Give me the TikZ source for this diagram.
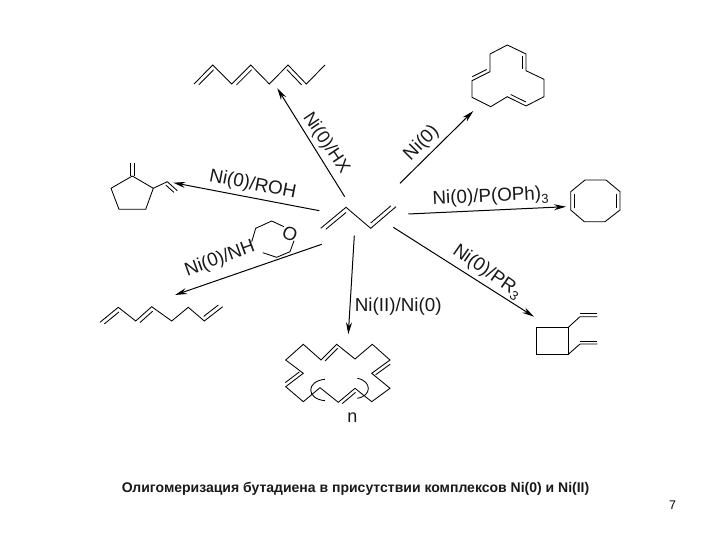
\documentclass[tikz,border=0pt]{standalone}
\usepackage{fontspec}
\setmainfont{Liberation Sans}
\usetikzlibrary{calc,arrows.meta}
\tikzset{
  bond/.style={line width=0.85pt,line join=miter},
  rxn/.style={line width=1pt,-{Stealth[length=12pt,width=6pt]}},
  lab/.style={font=\fontsize{18.8}{22}\selectfont,inner sep=0pt,text=black!90},
}
\newcommand{\dbl}[3]{\draw[bond] ($(#1)!.1!(#2)!#3!90:(#2)$) -- ($(#2)!.1!(#1)!-#3!90:(#1)$);}
\newcommand{\subthree}{\raisebox{-4pt}{\fontsize{13}{13}\selectfont 3}}
\begin{document}
\begin{tikzpicture}[x=1pt,y=-1pt]
\path[use as bounding box,fill=white] (0,0) rectangle (720,540);
% butadiene
\draw[bond] (320.7,228.3) -- (346,207.3) -- (370.7,228.3) -- (396,206.7);
\dbl{320.7,228.3}{346,207.3}{-4pt}
\dbl{370.7,228.3}{396,206.7}{4pt}
% chain top-left
\draw[bond] (194,84) -- (212.7,65) -- (231.7,84) -- (250.7,65) -- (269.3,84) -- (288,65) -- (306.3,84) -- (325,65);
\dbl{194,84}{212.7,65}{-4pt}
\dbl{231.7,84}{250.7,65}{-4pt}
\dbl{288,65}{306.3,84}{-4pt}
% 12-ring
\draw[bond] (507.3,45) -- (526,54) -- (526,70.7) -- (544,79.3) -- (544,96.7) -- (526,106) -- (507.3,96.7) -- (490.7,106.7) -- (472,97.3) -- (472,80.7) -- (490,71.7) -- (490,54) -- cycle;
\dbl{526,54}{526,70.7}{-3.5pt}
\dbl{507.3,96.7}{526,106}{3.5pt}
\dbl{472,80.7}{490,71.7}{3.5pt}
% COD
\draw[bond] (585,180) -- (606,180) -- (620,191.7) -- (620,210) -- (605,221.7) -- (584.3,221.7) -- (570.7,210) -- (570.7,191.7) -- cycle;
\dbl{570.7,191.7}{570.7,210}{3.5pt}
\dbl{620,191.7}{620,210}{-3.5pt}
% methylenecyclopentane
\draw[bond] (132.3,176) -- (153.3,188.3) -- (145.7,209.3) -- (119,209.3) -- (111,188.3) -- cycle;
\draw[bond] (130.5,176) -- (130.5,163.3) (134,176) -- (134,163.3);
\draw[bond] (153.3,188.3) -- (167.3,181.7) -- (177.3,190.7);
\dbl{167.3,181.7}{177.3,190.7}{-3.5pt}
% octatriene
\draw[bond] (100,322.3) -- (118.3,307.3) -- (135.7,321) -- (151.7,306.7) -- (171.7,321) -- (188.3,307.3) -- (204.3,321) -- (222.7,306.7);
\dbl{100,322.3}{118.3,307.3}{-4pt}
\dbl{135.7,321}{151.7,306.7}{-4pt}
\dbl{204.3,321}{222.7,306.7}{4pt}
% polymer
\draw[bond] (285.7,360) -- (303.3,344.3) -- (321,360) -- (336.7,344.3) -- (355,359) -- (372.3,344.3) -- (390,360) -- (371.7,373.3) -- (390,388.3) -- (371.7,401.7) -- (355,388.3) -- (338.3,402.3) -- (320,387.7) -- (303.3,401.7) -- (285.7,386.7) -- (303.3,373.3) -- cycle;
\dbl{321,360}{336.7,344.3}{-3.5pt}
\dbl{390,360}{371.7,373.3}{3.5pt}
\dbl{355,388.3}{338.3,402.3}{3.5pt}
\dbl{303.3,373.3}{285.7,386.7}{-3.5pt}
\draw[bond] (325,379.3) .. controls (306,381) and (306,399) .. (325,400.7);
\draw[bond] (357.3,378.3) .. controls (372,381) and (372,396) .. (357.3,398.3);
\node[lab,font=\fontsize{18}{20}\selectfont] (nlab) at (352.3,418) {n};
% cyclobutane
\draw[bond] (536,327.3) rectangle (568.3,354.3);
\draw[bond] (568.3,327.3) -- (580,316.7) -- (597.3,316.7);
\draw[bond] (580,313.7) -- (597.3,313.7);
\draw[bond] (568.3,354.3) -- (580,344) -- (597.3,344);
\draw[bond] (580,341) -- (597.3,341);
% arrows
\coordinate (aHXs) at (344.7,196.7); \coordinate (aHXe) at (277.3,88.3);
\coordinate (aNs) at (400,183.3); \coordinate (aNe) at (473.3,111);
\coordinate (aPs) at (408.3,214); \coordinate (aPe) at (566,206.7);
\coordinate (aRs) at (393.3,227.3); \coordinate (aRe) at (534,316.7);
\coordinate (aIs) at (354.3,235.7); \coordinate (aIe) at (348.3,334.3);
\coordinate (aAs) at (321.7,244.3); \coordinate (aAe) at (175,295);
\coordinate (aOs) at (319.3,210.7); \coordinate (aOe) at (173.3,182.7);
\draw[rxn] (aHXs) -- (aHXe);
\draw[rxn] (aNs) -- (aNe);
\draw[rxn] (aPs) -- (aPe);
\draw[rxn] (aRs) -- (aRe);
\draw[rxn] (aIs) -- (aIe);
\draw[rxn] (aAs) -- (aAe);
\draw[rxn] (aOs) -- (aOe);
% labels
\node[lab,rotate=-56,font=\fontsize{18}{20}\selectfont] (lHX) at (326,143) {Ni(0)/HX};
\node[lab,rotate=45] (lN) at (421.7,143.3) {Ni(0)};
\node[lab,rotate=2.7] (lP) at (490.5,197) {Ni(0)/P(OPh)\subthree};
\node[lab,rotate=-35] (lR) at (487,272) {Ni(0)/PR\subthree};
\node[lab,anchor=west] (lI) at (354.7,307) {Ni(II)/Ni(0)};
\node[lab,rotate=20] (lA) at (220,259) {Ni(0)/NH};
\node[lab,rotate=-11] (lO) at (252.7,185) {Ni(0)/ROH};
% morpholine
\draw[bond] (251.7,241.7) -- (255.7,228.3) -- (271.7,221) -- (284,226.7);
\draw[bond] (294,240.7) -- (290,251.7) -- (276.7,257.3) -- (262.7,252.7);
\node[lab,rotate=-20] (oxy) at (290,234.3) {O};
% caption
\node[inner sep=0pt,font=\bfseries\fontsize{14}{16}\selectfont,text=black!90] (cap) at (355.5,489) {Олигомеризация бутадиена в присутствии комплексов Ni(0) и Ni(II)};
\node[inner sep=0pt,font=\fontsize{12.5}{14}\selectfont] (pg) at (672.5,505) {7};
\end{tikzpicture}
\end{document}
